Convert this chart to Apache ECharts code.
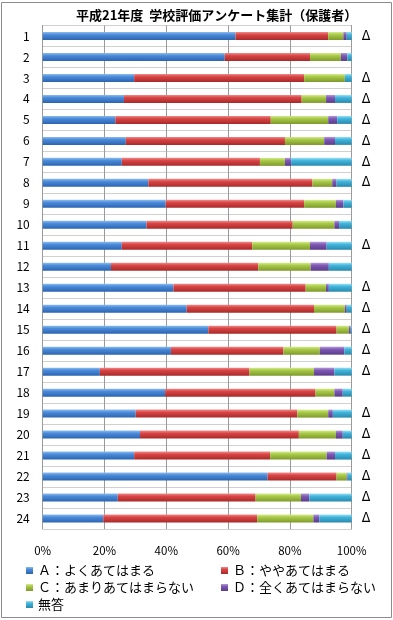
<!DOCTYPE html>
<html>
<head>
<meta charset="utf-8">
<script src="https://cdn.jsdelivr.net/npm/echarts@6/dist/echarts.min.js"></script>
<style>
html,body{margin:0;padding:0;background:#fff;}
#c{width:393px;height:620px;}
</style>
</head>
<body>
<div id="c"></div>
<script>
const titleText = '平成21年度  学校評価アンケート集計（保護者）';
const categories = ['1','2','3','4','5','6','7','8','9','10','11','12','13','14','15','16','17','18','19','20','21','22','23','24'];
const marks = ['Δ','','Δ','Δ','Δ','Δ','Δ','Δ','','','Δ','','Δ','Δ','Δ','Δ','Δ','','Δ','Δ','Δ','Δ','Δ','Δ'];
const seriesNames = ['Ａ：よくあてはまる','Ｂ：ややあてはまる','Ｃ：あまりあてはまらない','Ｄ：全くあてはまらない','無答'];
const valA = [62.4,58.9,29.6,26.3,23.5,26.9,25.6,34.2,39.8,33.6,25.6,22.1,42.3,46.6,53.6,41.5,18.5,39.6,30.1,31.5,29.6,72.8,24.3,19.6];
const valB = [30.0,27.6,55.0,57.5,50.3,51.5,44.7,53.1,44.8,47.3,42.2,47.7,42.8,41.2,41.5,36.4,48.4,48.7,52.3,51.4,44.0,22.3,44.6,49.8];
const valC = [4.9,10.0,13.2,7.9,18.6,12.7,8.1,6.4,10.3,13.5,18.7,16.9,6.6,10.0,4.0,11.8,20.9,6.1,10.0,12.0,18.3,3.3,14.7,18.2];
const valD = [1.1,2.1,0.0,2.9,2.9,3.5,2.0,1.4,2.4,1.5,5.4,5.9,0.9,0.6,0.6,7.9,6.6,2.7,1.5,2.2,2.7,0.3,2.7,1.9];
const valE = [1.6,1.4,2.2,5.4,4.7,5.4,19.6,4.9,2.7,4.1,8.1,7.4,7.4,1.6,0.3,2.4,5.6,2.9,6.1,2.9,5.4,1.3,13.7,10.5];
const xTicks = [0,20,40,60,80,100];

const values = [valA,valB,valC,valD,valE];
const palettes = [
  ['#8cbcf0','#4a8ad8','#2c64b0'],
  ['#f08a8a','#d84444','#a82a2a'],
  ['#d4ec8c','#a8c848','#7e9a2c'],
  ['#b49ad8','#7e58b4','#5a3c88'],
  ['#9ae0f4','#40b4dc','#2a88ac']
];
function grad(p){
  return new echarts.graphic.LinearGradient(0,0,0,1,[
    {offset:0,color:p[0]},{offset:0.35,color:p[1]},{offset:1,color:p[2]}
  ]);
}
const font = '"Noto Sans CJK JP","Noto Sans",sans-serif';
const chart = echarts.init(document.getElementById('c'));
chart.setOption({
  animation:false,
  backgroundColor:'#fff',
  title:{text:titleText,left:71,top:4,textStyle:{fontSize:13,fontWeight:'bold',color:'#000',fontFamily:font}},
  grid:{left:42.7,right:41.3,top:25.5,bottom:91},
  legend:[
    {left:21,top:559,orient:'vertical',itemGap:4,itemWidth:7,itemHeight:7,icon:'rect',
     textStyle:{fontSize:13,color:'#000',fontFamily:font},data:[seriesNames[0],seriesNames[2],seriesNames[4]]},
    {left:216,top:559,orient:'vertical',itemGap:4,itemWidth:7,itemHeight:7,icon:'rect',
     textStyle:{fontSize:13,color:'#000',fontFamily:font},data:[seriesNames[1],seriesNames[3]]}
  ],
  xAxis:{type:'value',min:0,max:100,interval:20,
    axisLine:{show:false},axisTick:{show:false},
    axisLabel:{formatter:v=>xTicks.indexOf(v)>=0?v+'%':'',fontSize:11.5,color:'#000',margin:16,fontFamily:font},
    splitLine:{show:true,lineStyle:{color:'#9a9a9a',width:1}}},
  yAxis:[
    {type:'category',inverse:true,data:categories,
     axisLine:{show:true,lineStyle:{color:'#9a9a9a'}},axisTick:{show:false},
     axisLabel:{fontSize:12,color:'#000',margin:13,fontFamily:font},
     splitLine:{show:true,lineStyle:{color:'#d0d0d0'}}},
    {type:'category',inverse:true,data:marks,position:'right',
     axisLine:{show:true,lineStyle:{color:'#9a9a9a'}},axisTick:{show:false},
     axisLabel:{fontSize:14,color:'#000',margin:10,fontFamily:'"Liberation Sans Narrow","DejaVu Sans Condensed",sans-serif'},
     splitLine:{show:false}}
  ],
  series:seriesNames.map((n,i)=>({
    name:n,type:'bar',stack:'total',barWidth:8,yAxisIndex:0,
    itemStyle:{color:grad(palettes[i])},
    data:values[i]
  })),
  graphic:[{type:'rect',shape:{x:1.5,y:2.5,width:390,height:615},style:{fill:'none',stroke:'#8c8c8c',lineWidth:1},silent:true}]
});
</script>
</body>
</html>
